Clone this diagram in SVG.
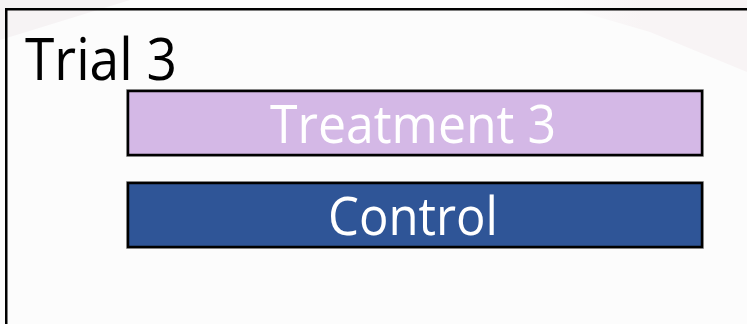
<svg xmlns="http://www.w3.org/2000/svg" width="747" height="324" viewBox="0 0 747 324">
<style>
.box{stroke:#000;stroke-width:2.5}
.halo{fill:none;stroke:#b0b0b0;stroke-width:1}
.lbl{font-family:"Open Sans","Noto Sans","Liberation Sans",sans-serif;fill:#fff;text-anchor:middle}
</style>
<defs>
<linearGradient id="band" x1="0" y1="0" x2="1" y2="0">
<stop offset="0" stop-color="#f8f5f6" stop-opacity="0"/>
<stop offset="0.5" stop-color="#f8f4f5" stop-opacity="1"/>
<stop offset="1" stop-color="#f8f4f5" stop-opacity="1"/>
</linearGradient>
</defs>
<rect width="747" height="324" fill="#fcfcfc"/>
<polygon points="540,0 747,0 747,72 650,32" fill="url(#band)"/>
<polygon points="0,0 130,0 0,40" fill="#f6f3f4"/>
<rect x="6.25" y="9.25" width="760" height="330" fill="none" stroke="#000" stroke-width="2.5"/>
<text x="25" y="80" font-family="'Open Sans','Noto Sans','Liberation Sans',sans-serif" font-size="58" fill="#000" textLength="152" lengthAdjust="spacingAndGlyphs">Trial 3</text>
<g id="treatment3">
<rect class="halo" x="126.5" y="89.5" width="577" height="67"/>
<rect class="box" x="128" y="91" width="574" height="64" fill="#d4b8e6"/>
<text class="lbl" x="413" y="143" font-size="53" textLength="286" lengthAdjust="spacingAndGlyphs">Treatment 3</text>
</g>
<g id="control">
<rect class="halo" x="126.5" y="181.5" width="577" height="67"/>
<rect class="box" x="128" y="183" width="574" height="64" fill="#2f5597"/>
<text class="lbl" x="413" y="235" font-size="53" textLength="170" lengthAdjust="spacingAndGlyphs">Control</text>
</g>
<g id="connectors"/>
</svg>
